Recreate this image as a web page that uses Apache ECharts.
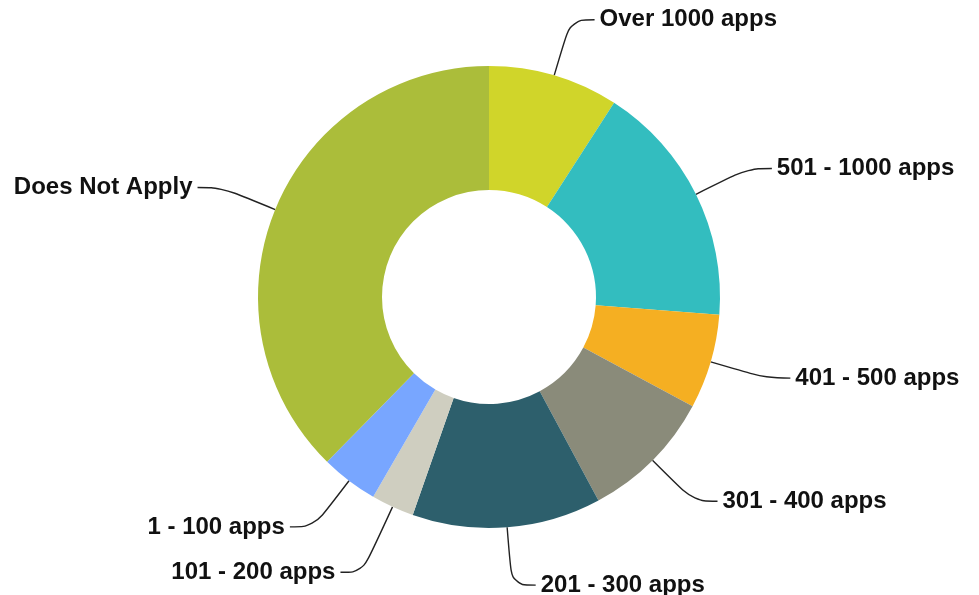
<!DOCTYPE html>
<html>
<head>
<meta charset="utf-8">
<title>Apps donut</title>
<script src="https://cdn.jsdelivr.net/npm/echarts@6/dist/echarts.min.js"></script>
<style>
  html, body { margin: 0; padding: 0; background: #fff; }
  #chart { width: 979px; height: 595px; }
</style>
</head>
<body>
<div id="chart"></div>
<script>
// slice categories, clockwise from 12 o'clock
const categories = [
  'Over 1000 apps',
  '501 - 1000 apps',
  '401 - 500 apps',
  '301 - 400 apps',
  '201 - 300 apps',
  '101 - 200 apps',
  '1 - 100 apps',
  'Does Not Apply'
]
// share of responses (%)
const values = [9.1, 17.1, 6.6, 9.3, 13.2, 3.0, 4.0, 37.6]
const colors = ['#D0D52A', '#33BDBF', '#F5AF22', '#8A8B7A', '#2D5F6C', '#CFCEC0', '#78A6FF', '#ABBD3A']

const chart = echarts.init(document.getElementById('chart'))

chart.setOption({
  backgroundColor: '#ffffff',
  animation: false,
  series: [
    {
      type: 'pie',
      center: [489, 297],
      radius: [107, 231],
      startAngle: 90,
      clockwise: true,
      avoidLabelOverlap: false,
      data: categories.map((name, i) => {
        const item = { name, value: values[i], itemStyle: { color: colors[i] } }
        // the thin 101-200 slice has its label pulled further down
        if (name === '101 - 200 apps') item.labelLine = { length: 72, length2: 22 }
        return item
      }),
      itemStyle: { borderWidth: 0 },
      label: {
        show: true,
        formatter: '{b}',
        color: '#111',
        fontFamily: '"Liberation Sans", Arial, sans-serif',
        fontWeight: 'bold',
        fontSize: 24
      },
      labelLine: {
        show: true,
        length: 58,
        length2: 24,
        smooth: 0.4,
        lineStyle: { color: '#222', width: 1.4 }
      }
    }
  ]
})
</script>
</body>
</html>
